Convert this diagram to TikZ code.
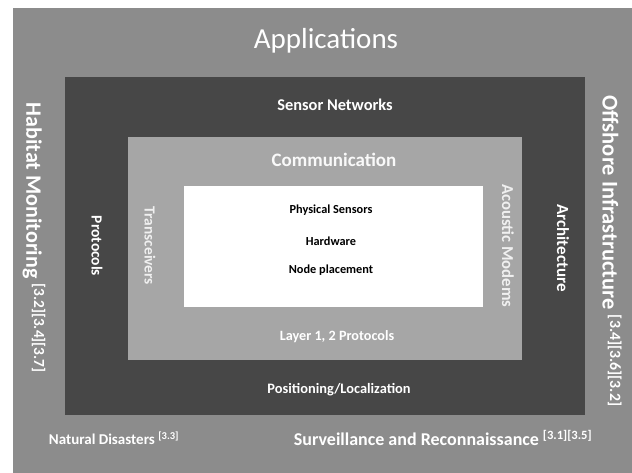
\documentclass[tikz,border=0pt]{standalone}
\usepackage{fontspec}
\setmainfont{Carlito}
\usetikzlibrary{positioning}
\definecolor{appgray}{HTML}{8C8C8C}
\definecolor{netgray}{HTML}{474747}
\definecolor{comgray}{HTML}{A6A6A6}
\tikzset{
  layer/.style={draw=none,fill=#1},
  lbl/.style={text=white,font=\bfseries\fontsize{#1}{#1}\selectfont,inner sep=0pt},
  vlbl/.style={lbl=#1,rotate=-90},
  core/.style={text=black,font=\bfseries\fontsize{12.3}{12.3}\selectfont,inner sep=0pt}
}
\begin{document}
\begin{tikzpicture}[x=1pt,y=-1pt]
\useasboundingbox (0,0) rectangle (632,473);
\fill[white] (0,0) rectangle (632,473);
% nested layers
\fill[layer=appgray] (13,8) rectangle (632,473);
\fill[layer=netgray] (65,77) rectangle (585,415);
\fill[layer=comgray] (128,137) rectangle (522,360);
\fill[layer=white]   (184,186) rectangle (483,307);
% applications
\node[lbl=29,font=\fontsize{29}{29}\selectfont] (app) at (326,41) {Applications};
\node[vlbl=22] (habitat) at (34,238) {Habitat Monitoring \textsuperscript{[3.2][3.4][3.7]}};
\node[vlbl=22.5] (offshore) at (612,251) {Offshore Infrastructure \textsuperscript{[3.4][3.6][3.2]}};
\node[lbl=15] (disaster) at (114,438) {Natural Disasters \textsuperscript{[3.3]}};
\node[lbl=18] (surveil) at (443,438) {Surveillance and Reconnaissance \textsuperscript{[3.1][3.5]}};
% sensor networks
\node[lbl=16.4] (net) at (335,105) {Sensor Networks};
\node[vlbl=15.5] (proto) at (97,246) {Protocols};
\node[vlbl=17] (arch) at (563,248) {Architecture};
\node[lbl=14.4] (posit) at (339,390) {Positioning/Localization};
% communication
\node[lbl=19,text=white!95!gray] (com) at (334,160) {Communication};
\node[vlbl=15.4,text=white!88!gray] (trans) at (150,246) {Transceivers};
\node[vlbl=16.7,text=white!88!gray] (modem) at (508,246) {Acoustic Modems};
\node[lbl=14.2] (layer) at (337,337) {Layer 1, 2 Protocols};
% physical
\node[core] (phys)  at (331,210) {Physical Sensors};
\node[core] (hard)  at (331,241) {Hardware};
\node[core] (place) at (331,270) {Node placement};
\end{tikzpicture}
\end{document}
